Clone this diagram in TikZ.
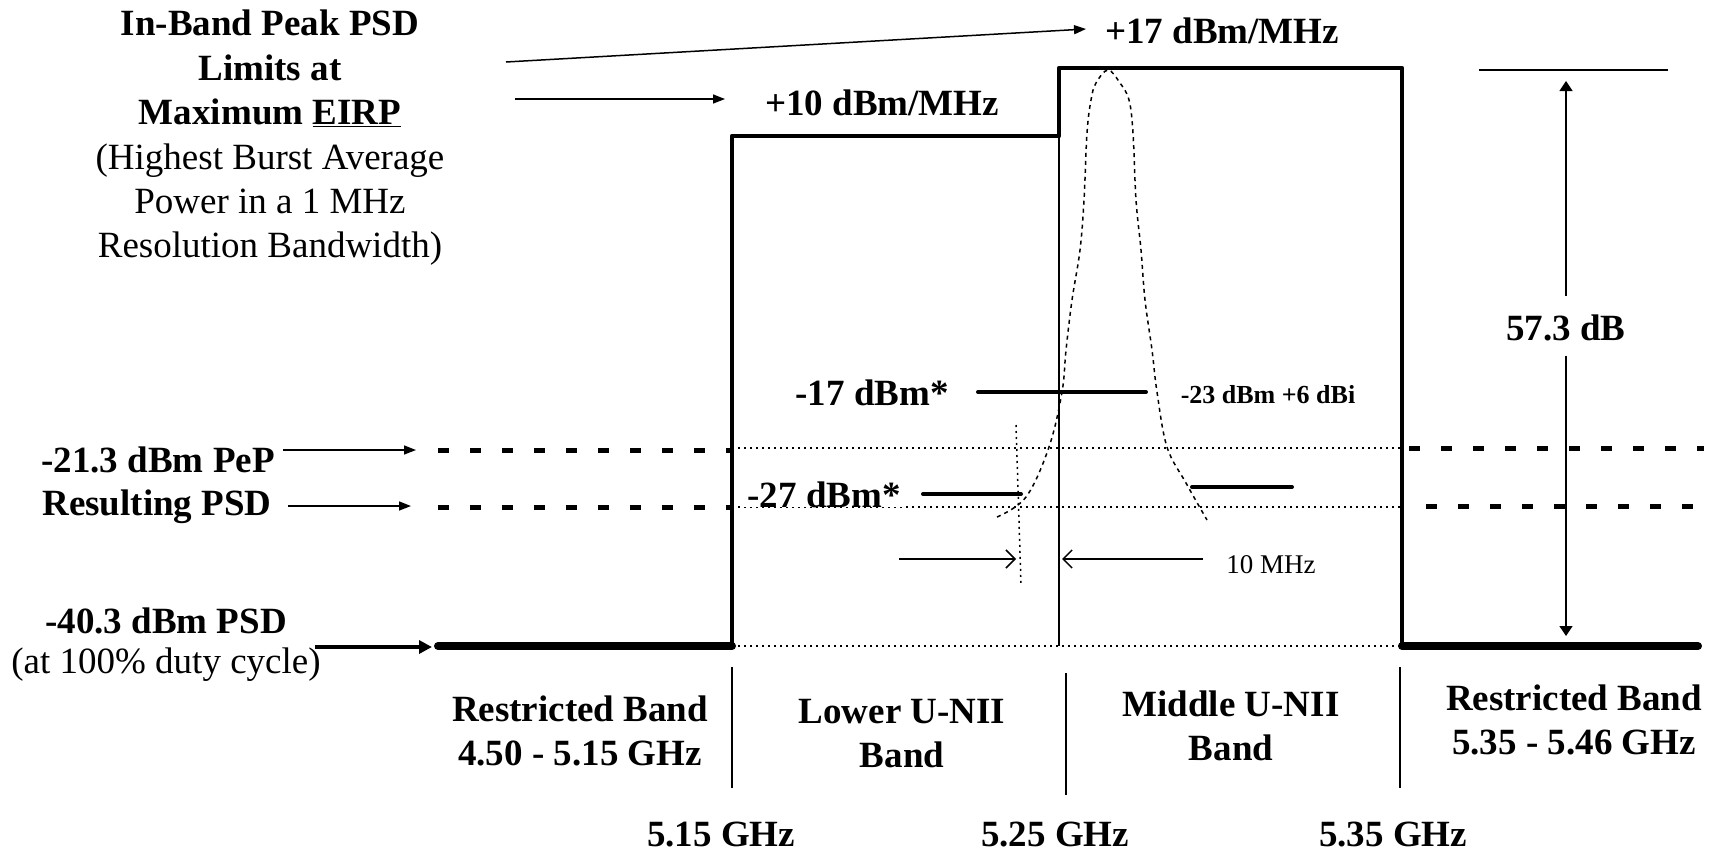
\documentclass[tikz,border=0pt]{standalone}
\usepackage{fontspec}
\setmainfont{Liberation Serif}
\usetikzlibrary{arrows.meta}
\begin{document}
\begin{tikzpicture}[x=1pt,y=-1pt,
  big/.style={font=\bfseries\fontsize{37}{44}\selectfont, inner sep=0pt, align=center},
  rom/.style={font=\fontsize{37}{44.4}\selectfont, inner sep=0pt, align=center},
  bandline/.style={line width=4.5pt, line join=round, line cap=round},
  floorline/.style={line width=8pt, line cap=round},
  thickdash/.style={line width=5pt, dash pattern=on 11pt off 21pt},
  finedot/.style={line width=1.5pt, dash pattern=on 2pt off 4pt},
  curvedot/.style={line width=1.5pt, dash pattern=on 4pt off 4pt},
  hair/.style={line width=1.5pt},
  ptr/.style={line width=1.5pt, -{Triangle[length=12pt,width=9pt]}},
  barb/.style={line width=1.5pt, -{Straight Barb[length=9pt,width=18pt]}},
  seg/.style={line width=4pt, line cap=round}
]
\useasboundingbox (0,0) rectangle (1718,852);

% ---- main mask outline
\coordinate (fl0) at (438,646);
\coordinate (c1) at (732,646);
\coordinate (c2) at (732,136);
\coordinate (c3) at (1059,136);
\coordinate (c4) at (1059,68);
\coordinate (c5) at (1402,68);
\coordinate (c6) at (1402,646);
\coordinate (fr1) at (1698,646);
\draw[floorline] (fl0) -- (c1);
\draw[floorline] (c6) -- (fr1);
\draw[bandline] (c1) -- (c2) -- (c3) -- (c4) -- (c5) -- (c6);
\draw[hair] (c3) -- (1059,646);
\draw[finedot] (c1) -- (c6);

% ---- PeP and resulting PSD levels
\draw[thickdash] (438,450) -- (730,450);
\draw[thickdash] (438,507) -- (732,507);
\draw[thickdash] (1409,448) -- (1704,448);
\draw[thickdash] (1426,506) -- (1698,506);
\draw[finedot] (732,448) -- (1402,448);
\draw[finedot] (732,507) -- (1402,507);

% ---- gaussian spectrum
\draw[curvedot] plot[smooth, tension=0.6] coordinates {(997,517) (1026,497) (1049,447) (1062,392) (1066,350) (1072,300) (1080,250) (1084,200) (1087,133) (1091,100) (1096,83) (1108,70) (1120,83) (1129,100) (1133,133) (1136,200) (1141,250) (1145,300) (1152,350) (1157,392) (1167,447) (1186,483) (1207,520)};

% ---- level segments
\draw[seg] (978,392) -- (1146,392);
\draw[seg] (923,494) -- (1021,494);
\draw[seg] (1192,487) -- (1292,487);
\draw[finedot] (1016,425) -- (1021,585);

% ---- 10 MHz
\coordinate (m1s) at (899,559);
\coordinate (m1e) at (1016,559);
\coordinate (m2s) at (1203,559);
\coordinate (m2e) at (1062,559);
\draw[barb] (m1s) -- (m1e);
\draw[barb] (m2s) -- (m2e);
\node[font=\fontsize{27}{30}\selectfont, inner sep=0pt, anchor=base] (mhz) at (1271,573) {10 MHz};

% ---- labels in plot
\node[big, anchor=base] (p17) at (1222,43) {+17 dBm/MHz};
\node[big, anchor=base] (p10) at (882,115) {+10 dBm/MHz};
\node[big, anchor=base] (m17) at (872,405) {-17 dBm*};
\node[font=\bfseries\fontsize{26}{30}\selectfont, inner sep=0pt, anchor=base] (m23) at (1268,403) {-23 dBm +6 dBi};
\node[big, anchor=base, fill=white, inner xsep=3pt] (m27) at (824,507) {-27 dBm*};

% ---- top-left description
\node[rom] (title) at (270,138) {\textbf{In-Band Peak PSD}\\ \textbf{Limits at}\\ \textbf{Maximum \underline{EIRP}}\\ (Highest Burst Average\\ Power in a 1 MHz\\ Resolution Bandwidth)};
\coordinate (t1) at (506,62);
\coordinate (t1e) at (1086,29);
\coordinate (t2) at (515,99);
\coordinate (t2e) at (725,99);
\draw[ptr] (t1) -- (t1e);
\draw[ptr] (t2) -- (t2e);

% ---- left labels
\node[big, anchor=base] (pep) at (158,472) {-21.3 dBm PeP};
\node[big, anchor=base] (res) at (157,515) {Resulting PSD};
\node[big, anchor=base] (m40) at (166,633) {-40.3 dBm PSD};
\node[rom, anchor=base] (duty) at (166,673) {(at 100\% duty cycle)};
\coordinate (a1) at (283,450);
\coordinate (a1e) at (416,450);
\coordinate (a2) at (288,506);
\coordinate (a2e) at (411,506);
\coordinate (a3) at (315,647);
\coordinate (a3e) at (432,647);
\draw[ptr] (a1) -- (a1e);
\draw[ptr] (a2) -- (a2e);
\draw[line width=4pt, -{Triangle[length=13pt,width=13pt]}] (a3) -- (a3e);

% ---- 57.3 dB
\draw[hair] (1479,70) -- (1668,70);
\node[big, anchor=base] (d57) at (1566,340) {57.3 dB};
\coordinate (d57t) at (1566,81);
\coordinate (d57b) at (1566,636);
\draw[line width=1.5pt, -{Triangle[length=10pt,width=13pt]}] ([yshift=18pt]d57.north) -- (d57t);
\draw[line width=1.5pt, -{Triangle[length=10pt,width=13pt]}] ([yshift=-15pt]d57.south) -- (d57b);

% ---- band separators
\draw[hair] (732,667) -- (732,788);
\draw[hair] (1066,673) -- (1066,795);
\draw[hair] (1400,667) -- (1400,788);

% ---- band labels
\node[big] (rb1) at (580,731) {Restricted Band\\4.50 - 5.15 GHz};
\node[big] (lun) at (902,734) {Lower U-NII\\Band};
\node[big] (mun) at (1231,726) {Middle U-NII\\Band};
\node[big] (rb2) at (1574,720) {Restricted Band\\5.35 - 5.46 GHz};

% ---- frequencies
\node[big, anchor=base] (f1) at (721,846) {5.15 GHz};
\node[big, anchor=base] (f2) at (1055,846) {5.25 GHz};
\node[big, anchor=base] (f3) at (1393,846) {5.35 GHz};
\end{tikzpicture}
\end{document}
